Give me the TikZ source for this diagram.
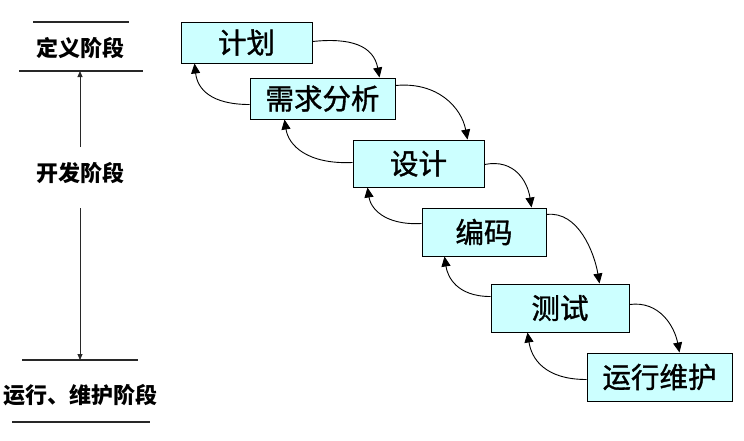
\documentclass[tikz,border=0pt]{standalone}
\usepackage{fontspec}
\setmainfont{Noto Sans CJK SC}
\usetikzlibrary{arrows.meta,calc}
\definecolor{boxfill}{RGB}{204,255,255}
\definecolor{lineg}{RGB}{40,40,40}
\begin{document}
\begin{tikzpicture}[x=1pt,y=-1pt,
  stage/.style={draw=black,line width=1pt,fill=boxfill,inner sep=0pt,font=\fontsize{28.5}{32}\selectfont\addfontfeature{FakeBold=1.2}},
  phase/.style={inner sep=0pt,font=\fontsize{22}{25}\selectfont\bfseries},
  flow/.style={line width=0.9pt,-{Triangle[length=10pt,width=9pt]}},
  rule/.style={line width=1.1pt,draw=lineg},
  span/.style={line width=0.9pt,draw=lineg,-{Triangle[length=6pt,width=5pt]}}]
\useasboundingbox (0,0) rectangle (744,440);
% stage boxes
\node[stage,minimum width=131pt,minimum height=41pt] (n1) at (246.5,42.5) {计划};
\node[stage,minimum width=145pt,minimum height=41pt] (n2) at (322.5,98.5) {需求分析};
\node[stage,minimum width=131pt,minimum height=47pt] (n3) at (418.5,163.5) {设计};
\node[stage,minimum width=124pt,minimum height=48pt] (n4) at (484,232) {编码};
\node[stage,minimum width=138pt,minimum height=48pt] (n5) at (560,308) {测试};
\node[stage,minimum width=145pt,minimum height=48pt] (n6) at (659.5,377) {运行维护};
% forward arrows
\draw[flow] ($(n1.north east)+(0,20)$) .. controls +(38,-4) and +(-6,-32) .. ($(n2.north west)+(130,0)$);
\draw[flow] ($(n2.north east)+(0,8)$) .. controls +(42,-4) and +(-6,-32) .. ($(n3.north west)+(115,0)$);
\draw[flow] ($(n3.north east)+(0,25)$) .. controls +(30,-6) and +(-4,-26) .. ($(n4.north west)+(110,0)$);
\draw[flow] ($(n4.north east)+(0,7)$) .. controls +(32,-4) and +(-5,-30) .. ($(n5.north west)+(109,0)$);
\draw[flow] ($(n5.north east)+(0,21)$) .. controls +(30,-4) and +(-5,-26) .. ($(n6.north west)+(93,0)$);
% backward arrows
\draw[flow] ($(n2.north west)+(0,27)$) .. controls +(-38,0) and +(3,26) .. ($(n1.south west)+(14,0)$);
\draw[flow] ($(n3.north west)+(0,23)$) .. controls +(-45,2) and +(4,26) .. ($(n2.south west)+(35,0)$);
\draw[flow] ($(n4.north west)+(0,16)$) .. controls +(-38,2) and +(3,20) .. ($(n3.south west)+(15,0)$);
\draw[flow] ($(n5.north west)+(0,13)$) .. controls +(-34,0) and +(3,20) .. ($(n4.south west)+(23,0)$);
\draw[flow] ($(n6.north west)+(0,27)$) .. controls +(-42,0) and +(4,26) .. ($(n5.south west)+(37,0)$);
% left phase labels
\node[phase] (p1) at (80,48) {定义阶段};
\node[phase] (p2) at (80,173) {开发阶段};
\node[phase] (p3) at (81,395) {运行、维护阶段};
\coordinate (a1) at (33,22);  \coordinate (a2) at (129,22);
\coordinate (b1) at (19,71);  \coordinate (b2) at (143,71);
\coordinate (c1) at (22,360); \coordinate (c2) at (138,360);
\coordinate (d1) at (12,422); \coordinate (d2) at (150,422);
\draw[rule] (a1) -- (a2);
\draw[rule] (b1) -- (b2);
\draw[rule] (c1) -- (c2);
\draw[rule] (d1) -- (d2);
\coordinate (v1) at (80,71); \coordinate (v2) at (80,147);
\coordinate (v3) at (80,208); \coordinate (v4) at (80,360);
\draw[span] (v2) -- (v1);
\draw[span] (v3) -- (v4);
\end{tikzpicture}
\end{document}
